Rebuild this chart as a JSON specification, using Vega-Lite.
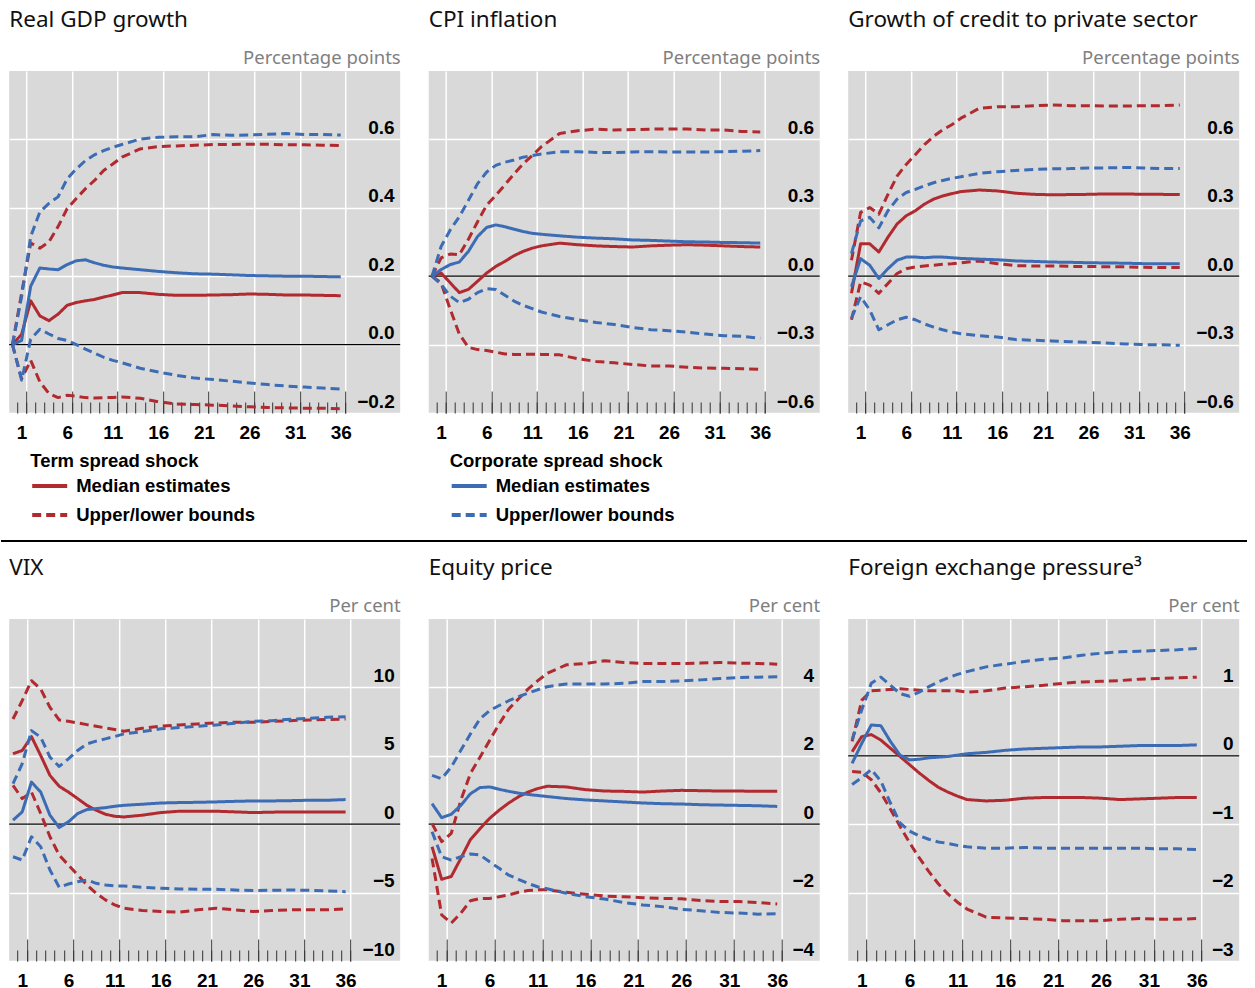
{
"$schema": "https://vega.github.io/schema/vega-lite/v6.json",
"background": "white",
"padding": {"left": 0, "top": 8, "right": 0, "bottom": 0},
"config": {
  "view": {"stroke": null, "fill": "#D9D9D9"},
  "font": "Liberation Sans",
  "title": {"anchor": "start", "frame": "group", "font": "Noto Sans", "fontSize": 22.5, "fontWeight": "normal", "color": "#111111", "baseline": "alphabetic", "offset": 17},
  "axis": {"domain": false, "labelFont": "Liberation Sans", "labelFontSize": 19, "labelFontWeight": "bold", "labelColor": "black", "tickColor": "#333333", "tickWidth": 1, "gridColor": "white", "gridWidth": 1.5, "gridOpacity": 1, "labelFlush": false, "labelOverlap": false, "titleFont": "Noto Sans", "titleFontSize": 18.5, "titleFontWeight": "normal", "titleColor": "#7F7F7F", "minExtent": 0, "labelBound": false},
  "legend": {"titleFont": "Liberation Sans", "titleFontSize": 18.5, "titleFontWeight": "bold", "titleColor": "black", "labelFont": "Liberation Sans", "labelFontSize": 18.5, "labelFontWeight": "bold", "labelColor": "black", "symbolType": "stroke", "symbolSize": 1225, "symbolStrokeWidth": 4, "labelOffset": 7, "rowPadding": -7, "titlePadding": -4, "padding": 0, "titleLimit": 0, "labelLimit": 0, "orient": "none", "direction": "vertical"}
},
"datasets": {"irf": [
{"p":"gdp","x":0,"tm":0,"tu":0,"tl":0,"cm":0,"cu":0,"cl":0},
{"p":"gdp","x":1,"tm":0.03,"tu":0.15,"tl":-0.1,"cm":0.012,"cu":0.14,"cl":-0.104},
{"p":"gdp","x":2,"tm":0.128,"tu":0.297,"tl":-0.046,"cm":0.171,"cu":0.316,"cl":0.016},
{"p":"gdp","x":3,"tm":0.084,"tu":0.282,"tl":-0.109,"cm":0.224,"cu":0.388,"cl":0.045},
{"p":"gdp","x":4,"tm":0.07,"tu":0.3,"tl":-0.143,"cm":0.221,"cu":0.413,"cl":0.031},
{"p":"gdp","x":5,"tm":0.089,"tu":0.345,"tl":-0.155,"cm":0.219,"cu":0.432,"cl":0.018},
{"p":"gdp","x":6,"tm":0.115,"tu":0.398,"tl":-0.148,"cm":0.234,"cu":0.485,"cl":0.012},
{"p":"gdp","x":7,"tm":0.123,"tu":0.427,"tl":-0.151,"cm":0.245,"cu":0.514,"cl":0},
{"p":"gdp","x":8,"tm":0.128,"tu":0.456,"tl":-0.155,"cm":0.248,"cu":0.538,"cl":-0.013},
{"p":"gdp","x":9,"tm":0.132,"tu":0.48,"tl":-0.156,"cm":0.239,"cu":0.555,"cl":-0.025},
{"p":"gdp","x":10,"tm":0.139,"tu":0.509,"tl":-0.155,"cm":0.232,"cu":0.567,"cl":-0.037},
{"p":"gdp","x":11,"tm":0.145,"tu":0.528,"tl":-0.155,"cm":0.227,"cu":0.577,"cl":-0.046},
{"p":"gdp","x":12,"tm":0.152,"tu":0.548,"tl":-0.153,"cm":0.224,"cu":0.585,"cl":-0.053},
{"p":"gdp","x":14,"tm":0.152,"tu":0.572,"tl":-0.157,"cm":0.219,"cu":0.601,"cl":-0.069},
{"p":"gdp","x":16,"tm":0.147,"tu":0.579,"tl":-0.167,"cm":0.214,"cu":0.606,"cl":-0.08},
{"p":"gdp","x":18,"tm":0.144,"tu":0.581,"tl":-0.174,"cm":0.21,"cu":0.608,"cl":-0.09},
{"p":"gdp","x":20,"tm":0.144,"tu":0.583,"tl":-0.175,"cm":0.207,"cu":0.608,"cl":-0.098},
{"p":"gdp","x":22,"tm":0.145,"tu":0.585,"tl":-0.177,"cm":0.206,"cu":0.614,"cl":-0.102},
{"p":"gdp","x":24,"tm":0.146,"tu":0.585,"tl":-0.179,"cm":0.204,"cu":0.612,"cl":-0.107},
{"p":"gdp","x":26,"tm":0.148,"tu":0.586,"tl":-0.182,"cm":0.202,"cu":0.613,"cl":-0.112},
{"p":"gdp","x":28,"tm":0.147,"tu":0.586,"tl":-0.184,"cm":0.201,"cu":0.615,"cl":-0.117},
{"p":"gdp","x":30,"tm":0.145,"tu":0.584,"tl":-0.185,"cm":0.2,"cu":0.617,"cl":-0.121},
{"p":"gdp","x":32,"tm":0.145,"tu":0.584,"tl":-0.186,"cm":0.2,"cu":0.614,"cl":-0.124},
{"p":"gdp","x":34,"tm":0.144,"tu":0.583,"tl":-0.186,"cm":0.199,"cu":0.614,"cl":-0.127},
{"p":"gdp","x":36,"tm":0.143,"tu":0.582,"tl":-0.188,"cm":0.198,"cu":0.613,"cl":-0.13},
{"p":"cpi","x":0,"tm":0,"tu":0,"tl":0,"cm":0,"cu":0,"cl":0},
{"p":"cpi","x":1,"tm":0.014,"tu":0.08,"tl":-0.029,"cm":0.029,"cu":0.13,"cl":-0.036},
{"p":"cpi","x":2,"tm":-0.029,"tu":0.097,"tl":-0.145,"cm":0.051,"cu":0.203,"cl":-0.087},
{"p":"cpi","x":3,"tm":-0.072,"tu":0.094,"tl":-0.254,"cm":0.062,"cu":0.261,"cl":-0.116},
{"p":"cpi","x":4,"tm":-0.058,"tu":0.162,"tl":-0.312,"cm":0.109,"cu":0.333,"cl":-0.101},
{"p":"cpi","x":5,"tm":-0.022,"tu":0.239,"tl":-0.322,"cm":0.174,"cu":0.406,"cl":-0.072},
{"p":"cpi","x":6,"tm":0.014,"tu":0.312,"tl":-0.326,"cm":0.214,"cu":0.457,"cl":-0.055},
{"p":"cpi","x":7,"tm":0.043,"tu":0.355,"tl":-0.333,"cm":0.225,"cu":0.486,"cl":-0.058},
{"p":"cpi","x":8,"tm":0.065,"tu":0.401,"tl":-0.341,"cm":0.217,"cu":0.5,"cl":-0.084},
{"p":"cpi","x":9,"tm":0.09,"tu":0.449,"tl":-0.343,"cm":0.206,"cu":0.51,"cl":-0.109},
{"p":"cpi","x":10,"tm":0.109,"tu":0.493,"tl":-0.343,"cm":0.196,"cu":0.522,"cl":-0.128},
{"p":"cpi","x":11,"tm":0.123,"tu":0.529,"tl":-0.342,"cm":0.188,"cu":0.529,"cl":-0.142},
{"p":"cpi","x":12,"tm":0.133,"tu":0.568,"tl":-0.343,"cm":0.184,"cu":0.536,"cl":-0.157},
{"p":"cpi","x":14,"tm":0.145,"tu":0.626,"tl":-0.345,"cm":0.177,"cu":0.546,"cl":-0.177},
{"p":"cpi","x":16,"tm":0.138,"tu":0.638,"tl":-0.362,"cm":0.171,"cu":0.546,"cl":-0.191},
{"p":"cpi","x":18,"tm":0.133,"tu":0.645,"tl":-0.374,"cm":0.167,"cu":0.543,"cl":-0.203},
{"p":"cpi","x":20,"tm":0.13,"tu":0.641,"tl":-0.38,"cm":0.164,"cu":0.542,"cl":-0.212},
{"p":"cpi","x":22,"tm":0.128,"tu":0.643,"tl":-0.387,"cm":0.159,"cu":0.545,"cl":-0.225},
{"p":"cpi","x":24,"tm":0.133,"tu":0.645,"tl":-0.394,"cm":0.157,"cu":0.546,"cl":-0.235},
{"p":"cpi","x":26,"tm":0.136,"tu":0.646,"tl":-0.394,"cm":0.154,"cu":0.545,"cl":-0.239},
{"p":"cpi","x":28,"tm":0.138,"tu":0.646,"tl":-0.399,"cm":0.151,"cu":0.545,"cl":-0.246},
{"p":"cpi","x":30,"tm":0.136,"tu":0.641,"tl":-0.403,"cm":0.15,"cu":0.545,"cl":-0.254},
{"p":"cpi","x":32,"tm":0.133,"tu":0.641,"tl":-0.404,"cm":0.148,"cu":0.546,"cl":-0.261},
{"p":"cpi","x":34,"tm":0.13,"tu":0.635,"tl":-0.406,"cm":0.147,"cu":0.548,"cl":-0.264},
{"p":"cpi","x":36,"tm":0.128,"tu":0.633,"tl":-0.409,"cm":0.145,"cu":0.551,"cl":-0.272},
{"p":"credit","x":0,"tm":-0.075,"tu":0.07,"tl":-0.191,"cm":-0.046,"cu":0.099,"cl":-0.184},
{"p":"credit","x":1,"tm":0.142,"tu":0.28,"tl":-0.025,"cm":0.077,"cu":0.243,"cl":-0.09},
{"p":"credit","x":2,"tm":0.142,"tu":0.301,"tl":-0.039,"cm":0.048,"cu":0.258,"cl":-0.148},
{"p":"credit","x":3,"tm":0.106,"tu":0.272,"tl":-0.075,"cm":-0.01,"cu":0.212,"cl":-0.235},
{"p":"credit","x":4,"tm":0.171,"tu":0.359,"tl":-0.032,"cm":0.033,"cu":0.287,"cl":-0.213},
{"p":"credit","x":5,"tm":0.229,"tu":0.439,"tl":0.012,"cm":0.07,"cu":0.338,"cl":-0.191},
{"p":"credit","x":6,"tm":0.265,"tu":0.49,"tl":0.033,"cm":0.084,"cu":0.367,"cl":-0.18},
{"p":"credit","x":7,"tm":0.287,"tu":0.533,"tl":0.041,"cm":0.084,"cu":0.381,"cl":-0.191},
{"p":"credit","x":8,"tm":0.316,"tu":0.577,"tl":0.045,"cm":0.081,"cu":0.396,"cl":-0.209},
{"p":"credit","x":9,"tm":0.338,"tu":0.613,"tl":0.048,"cm":0.084,"cu":0.41,"cl":-0.223},
{"p":"credit","x":10,"tm":0.352,"tu":0.642,"tl":0.052,"cm":0.084,"cu":0.42,"cl":-0.235},
{"p":"credit","x":11,"tm":0.362,"tu":0.664,"tl":0.055,"cm":0.081,"cu":0.429,"cl":-0.245},
{"p":"credit","x":12,"tm":0.371,"tu":0.693,"tl":0.059,"cm":0.078,"cu":0.436,"cl":-0.252},
{"p":"credit","x":14,"tm":0.378,"tu":0.736,"tl":0.067,"cm":0.075,"cu":0.451,"cl":-0.261},
{"p":"credit","x":16,"tm":0.374,"tu":0.743,"tl":0.055,"cm":0.072,"cu":0.458,"cl":-0.267},
{"p":"credit","x":18,"tm":0.364,"tu":0.743,"tl":0.046,"cm":0.067,"cu":0.464,"cl":-0.278},
{"p":"credit","x":20,"tm":0.359,"tu":0.748,"tl":0.045,"cm":0.065,"cu":0.468,"cl":-0.281},
{"p":"credit","x":22,"tm":0.357,"tu":0.751,"tl":0.045,"cm":0.062,"cu":0.471,"cl":-0.284},
{"p":"credit","x":24,"tm":0.358,"tu":0.748,"tl":0.043,"cm":0.061,"cu":0.472,"cl":-0.287},
{"p":"credit","x":26,"tm":0.359,"tu":0.748,"tl":0.043,"cm":0.059,"cu":0.475,"cl":-0.29},
{"p":"credit","x":28,"tm":0.361,"tu":0.746,"tl":0.041,"cm":0.058,"cu":0.475,"cl":-0.293},
{"p":"credit","x":30,"tm":0.361,"tu":0.746,"tl":0.041,"cm":0.057,"cu":0.477,"cl":-0.297},
{"p":"credit","x":32,"tm":0.359,"tu":0.748,"tl":0.039,"cm":0.055,"cu":0.475,"cl":-0.3},
{"p":"credit","x":34,"tm":0.359,"tu":0.748,"tl":0.038,"cm":0.055,"cu":0.472,"cl":-0.301},
{"p":"credit","x":36,"tm":0.358,"tu":0.751,"tl":0.038,"cm":0.055,"cu":0.472,"cl":-0.303},
{"p":"vix","x":0,"tm":5.15,"tu":7.69,"tl":2.84,"cm":0.29,"cu":2.96,"cl":-2.38},
{"p":"vix","x":1,"tm":5.39,"tu":9.03,"tl":1.87,"cm":0.9,"cu":4.42,"cl":-2.62},
{"p":"vix","x":2,"tm":6.4,"tu":10.49,"tl":2.35,"cm":3.08,"cu":6.84,"cl":-0.92},
{"p":"vix","x":3,"tm":5.02,"tu":9.88,"tl":0.78,"cm":2.35,"cu":6.36,"cl":-1.65},
{"p":"vix","x":4,"tm":3.57,"tu":8.54,"tl":-0.92,"cm":0.66,"cu":4.9,"cl":-3.35},
{"p":"vix","x":5,"tm":2.77,"tu":7.62,"tl":-2.26,"cm":-0.24,"cu":4.22,"cl":-4.61},
{"p":"vix","x":6,"tm":2.35,"tu":7.52,"tl":-2.99,"cm":0.17,"cu":4.78,"cl":-4.37},
{"p":"vix","x":7,"tm":1.87,"tu":7.4,"tl":-3.71,"cm":0.78,"cu":5.39,"cl":-4.2},
{"p":"vix","x":8,"tm":1.38,"tu":7.28,"tl":-4.44,"cm":1.07,"cu":5.87,"cl":-4.08},
{"p":"vix","x":9,"tm":1.02,"tu":7.16,"tl":-5.05,"cm":1.14,"cu":6.07,"cl":-4.32},
{"p":"vix","x":10,"tm":0.73,"tu":7.04,"tl":-5.53,"cm":1.21,"cu":6.24,"cl":-4.44},
{"p":"vix","x":11,"tm":0.58,"tu":6.92,"tl":-5.9,"cm":1.31,"cu":6.41,"cl":-4.51},
{"p":"vix","x":12,"tm":0.53,"tu":6.8,"tl":-6.14,"cm":1.38,"cu":6.6,"cl":-4.51},
{"p":"vix","x":14,"tm":0.66,"tu":7.01,"tl":-6.31,"cm":1.46,"cu":6.77,"cl":-4.61},
{"p":"vix","x":16,"tm":0.85,"tu":7.16,"tl":-6.38,"cm":1.55,"cu":6.97,"cl":-4.68},
{"p":"vix","x":18,"tm":0.95,"tu":7.26,"tl":-6.43,"cm":1.58,"cu":7.06,"cl":-4.73},
{"p":"vix","x":20,"tm":0.95,"tu":7.33,"tl":-6.26,"cm":1.6,"cu":7.16,"cl":-4.76},
{"p":"vix","x":22,"tm":0.95,"tu":7.4,"tl":-6.14,"cm":1.63,"cu":7.26,"cl":-4.76},
{"p":"vix","x":24,"tm":0.9,"tu":7.45,"tl":-6.26,"cm":1.67,"cu":7.38,"cl":-4.81},
{"p":"vix","x":26,"tm":0.85,"tu":7.45,"tl":-6.38,"cm":1.7,"cu":7.52,"cl":-4.85},
{"p":"vix","x":28,"tm":0.88,"tu":7.52,"tl":-6.31,"cm":1.7,"cu":7.57,"cl":-4.83},
{"p":"vix","x":30,"tm":0.9,"tu":7.57,"tl":-6.26,"cm":1.72,"cu":7.67,"cl":-4.81},
{"p":"vix","x":32,"tm":0.9,"tu":7.62,"tl":-6.26,"cm":1.75,"cu":7.74,"cl":-4.83},
{"p":"vix","x":34,"tm":0.9,"tu":7.65,"tl":-6.26,"cm":1.75,"cu":7.82,"cl":-4.88},
{"p":"vix","x":36,"tm":0.9,"tu":7.69,"tl":-6.19,"cm":1.8,"cu":7.86,"cl":-4.93},
{"p":"eq","x":0,"tm":-0.66,"tu":0.02,"tl":-1.0,"cm":0.6,"cu":1.43,"cl":-0.22},
{"p":"eq","x":1,"tm":-1.61,"tu":-0.51,"tl":-2.65,"cm":0.19,"cu":1.33,"cl":-0.95},
{"p":"eq","x":2,"tm":-1.53,"tu":-0.27,"tl":-2.89,"cm":0.29,"cu":1.67,"cl":-1.05},
{"p":"eq","x":3,"tm":-1.0,"tu":0.7,"tl":-2.6,"cm":0.55,"cu":2.16,"cl":-0.95},
{"p":"eq","x":4,"tm":-0.45,"tu":1.48,"tl":-2.24,"cm":0.89,"cu":2.64,"cl":-0.87},
{"p":"eq","x":5,"tm":-0.13,"tu":1.96,"tl":-2.17,"cm":1.07,"cu":3.08,"cl":-0.9},
{"p":"eq","x":6,"tm":0.17,"tu":2.45,"tl":-2.17,"cm":1.09,"cu":3.32,"cl":-1.1},
{"p":"eq","x":7,"tm":0.41,"tu":2.93,"tl":-2.12,"cm":1.02,"cu":3.47,"cl":-1.29},
{"p":"eq","x":8,"tm":0.62,"tu":3.37,"tl":-2.07,"cm":0.96,"cu":3.61,"cl":-1.49},
{"p":"eq","x":9,"tm":0.8,"tu":3.66,"tl":-1.99,"cm":0.91,"cu":3.73,"cl":-1.61},
{"p":"eq","x":10,"tm":0.94,"tu":3.95,"tl":-1.94,"cm":0.87,"cu":3.83,"cl":-1.73},
{"p":"eq","x":11,"tm":1.04,"tu":4.19,"tl":-1.92,"cm":0.84,"cu":3.93,"cl":-1.83},
{"p":"eq","x":12,"tm":1.11,"tu":4.41,"tl":-1.92,"cm":0.81,"cu":4.02,"cl":-1.89},
{"p":"eq","x":14,"tm":1.09,"tu":4.66,"tl":-1.99,"cm":0.75,"cu":4.1,"cl":-2.02},
{"p":"eq","x":16,"tm":1.01,"tu":4.7,"tl":-2.05,"cm":0.71,"cu":4.1,"cl":-2.12},
{"p":"eq","x":18,"tm":0.97,"tu":4.78,"tl":-2.1,"cm":0.68,"cu":4.1,"cl":-2.19},
{"p":"eq","x":20,"tm":0.96,"tu":4.73,"tl":-2.12,"cm":0.65,"cu":4.12,"cl":-2.29},
{"p":"eq","x":22,"tm":0.94,"tu":4.7,"tl":-2.15,"cm":0.62,"cu":4.17,"cl":-2.36},
{"p":"eq","x":24,"tm":0.97,"tu":4.7,"tl":-2.17,"cm":0.6,"cu":4.17,"cl":-2.41},
{"p":"eq","x":26,"tm":0.99,"tu":4.7,"tl":-2.18,"cm":0.59,"cu":4.19,"cl":-2.49},
{"p":"eq","x":28,"tm":0.98,"tu":4.71,"tl":-2.23,"cm":0.57,"cu":4.22,"cl":-2.53},
{"p":"eq","x":30,"tm":0.97,"tu":4.73,"tl":-2.26,"cm":0.56,"cu":4.26,"cl":-2.58},
{"p":"eq","x":32,"tm":0.97,"tu":4.71,"tl":-2.26,"cm":0.55,"cu":4.29,"cl":-2.6},
{"p":"eq","x":34,"tm":0.96,"tu":4.7,"tl":-2.29,"cm":0.54,"cu":4.3,"cl":-2.63},
{"p":"eq","x":36,"tm":0.96,"tu":4.68,"tl":-2.33,"cm":0.52,"cu":4.31,"cl":-2.62},
{"p":"fx","x":0,"tm":0.06,"tu":0.21,"tl":-0.23,"cm":-0.11,"cu":0.23,"cl":-0.42},
{"p":"fx","x":1,"tm":0.28,"tu":0.81,"tl":-0.24,"cm":0.18,"cu":0.67,"cl":-0.32},
{"p":"fx","x":2,"tm":0.31,"tu":0.95,"tl":-0.35,"cm":0.45,"cu":1.06,"cl":-0.2},
{"p":"fx","x":3,"tm":0.23,"tu":0.96,"tl":-0.54,"cm":0.44,"cu":1.15,"cl":-0.37},
{"p":"fx","x":4,"tm":0.11,"tu":0.97,"tl":-0.78,"cm":0.21,"cu":1.03,"cl":-0.69},
{"p":"fx","x":5,"tm":-0.01,"tu":0.98,"tl":-1.03,"cm":0.01,"cu":0.91,"cl":-0.98},
{"p":"fx","x":6,"tm":-0.13,"tu":0.97,"tl":-1.27,"cm":-0.06,"cu":0.87,"cl":-1.1},
{"p":"fx","x":7,"tm":-0.25,"tu":0.96,"tl":-1.49,"cm":-0.05,"cu":0.93,"cl":-1.17},
{"p":"fx","x":8,"tm":-0.36,"tu":0.95,"tl":-1.69,"cm":-0.03,"cu":1.01,"cl":-1.22},
{"p":"fx","x":9,"tm":-0.46,"tu":0.95,"tl":-1.87,"cm":-0.02,"cu":1.08,"cl":-1.26},
{"p":"fx","x":10,"tm":-0.53,"tu":0.95,"tl":-2.02,"cm":-0.01,"cu":1.14,"cl":-1.28},
{"p":"fx","x":11,"tm":-0.59,"tu":0.95,"tl":-2.14,"cm":0.01,"cu":1.19,"cl":-1.31},
{"p":"fx","x":12,"tm":-0.64,"tu":0.93,"tl":-2.24,"cm":0.03,"cu":1.23,"cl":-1.33},
{"p":"fx","x":14,"tm":-0.66,"tu":0.95,"tl":-2.36,"cm":0.05,"cu":1.3,"cl":-1.35},
{"p":"fx","x":16,"tm":-0.65,"tu":0.99,"tl":-2.37,"cm":0.08,"cu":1.34,"cl":-1.35},
{"p":"fx","x":18,"tm":-0.62,"tu":1.01,"tl":-2.38,"cm":0.1,"cu":1.38,"cl":-1.34},
{"p":"fx","x":20,"tm":-0.61,"tu":1.03,"tl":-2.39,"cm":0.11,"cu":1.41,"cl":-1.35},
{"p":"fx","x":22,"tm":-0.61,"tu":1.06,"tl":-2.41,"cm":0.12,"cu":1.43,"cl":-1.35},
{"p":"fx","x":24,"tm":-0.61,"tu":1.08,"tl":-2.41,"cm":0.13,"cu":1.47,"cl":-1.35},
{"p":"fx","x":26,"tm":-0.62,"tu":1.09,"tl":-2.41,"cm":0.13,"cu":1.5,"cl":-1.35},
{"p":"fx","x":28,"tm":-0.64,"tu":1.1,"tl":-2.39,"cm":0.14,"cu":1.52,"cl":-1.35},
{"p":"fx","x":30,"tm":-0.63,"tu":1.12,"tl":-2.38,"cm":0.15,"cu":1.53,"cl":-1.35},
{"p":"fx","x":32,"tm":-0.62,"tu":1.13,"tl":-2.39,"cm":0.15,"cu":1.54,"cl":-1.36},
{"p":"fx","x":34,"tm":-0.61,"tu":1.14,"tl":-2.39,"cm":0.15,"cu":1.55,"cl":-1.36},
{"p":"fx","x":36,"tm":-0.61,"tu":1.15,"tl":-2.38,"cm":0.16,"cu":1.57,"cl":-1.37}
]},
"vconcat": [
{"hconcat": [
 {"width": 391, "height": 342, "title": {"text": "Real GDP growth"},
  "layer": [
   {"data": {"values": [{}]}, "mark": {"type": "rule", "color": "black", "strokeWidth": 1.2},
    "encoding": {
     "x": {"datum": -0.36, "type": "quantitative", "scale": {"domain": [-0.36, 42.52], "nice": false, "zero": false},
       "axis": {"orient": "bottom", "values": [1.5,6.5,11.5,16.5,21.5,26.5,31.5,36.5], "grid": true, "ticks": true, "tickSize": -22, "labels": true, "labelExpr": "format(datum.value - 0.5, 'd')", "labelOffset": -4.57, "labelPadding": 32, "title": null}},
     "x2": {"datum": 42.52},
     "y": {"datum": 0, "type": "quantitative", "axis": null}}},
   {"data": {"name": "irf"},
    "transform": [{"filter": "datum.p == 'gdp'"}, {"fold": ["tm","tu","tl","cm","cu","cl"], "as": ["key","value"]}],
    "mark": {"type": "line", "strokeWidth": 3, "clip": true, "strokeJoin": "round"},
    "encoding": {
     "x": {"field": "x", "type": "quantitative", "scale": {"domain": [-0.36, 42.52], "nice": false, "zero": false},
       "axis": {"orient": "bottom", "values": [0.5,1.5,2.5,3.5,4.5,5.5,6.5,7.5,8.5,9.5,10.5,11.5,12.5,13.5,14.5,15.5,16.5,17.5,18.5,19.5,20.5,21.5,22.5,23.5,24.5,25.5,26.5,27.5,28.5,29.5,30.5,31.5,32.5,33.5,34.5,35.5,36.5], "grid": false, "ticks": true, "tickSize": -11, "labels": false, "title": null}},
     "y": {"field": "value", "type": "quantitative", "scale": {"domain": [-0.2, 0.8], "nice": false, "zero": false},
       "axis": {"orient": "right", "values": [-0.2, 0, 0.2, 0.4, 0.6], "format": ".1f", "grid": true, "ticks": false, "labelAlign": "right", "labelPadding": -6, "labelBaseline": "alphabetic", "labelOffset": -6, "title": "Percentage points", "titleAngle": 0, "titleAlign": "right", "titleBaseline": "alphabetic", "titleX": 0, "titleY": -8}},
     "color": {"field": "key", "type": "nominal", "scale": {"domain": ["tm","tu","tl","cm","cu","cl"], "range": ["#B02A30","#B02A30","#B02A30","#3C6CB4","#3C6CB4","#3C6CB4"]},
       "legend": {"title": "Term spread shock", "values": ["tm","tu"], "labelExpr": "datum.value == 'tm' || datum.value == 'cm' ? 'Median estimates' : 'Upper/lower bounds'", "legendX": 21, "legendY": 381}},
     "strokeDash": {"field": "key", "type": "nominal", "scale": {"domain": ["tm","tu","tl","cm","cu","cl"], "range": [[1,0],[9,5],[9,5],[1,0],[9,5],[9,5]]},
       "legend": {"title": "Term spread shock", "values": ["tm","tu"], "labelExpr": "datum.value == 'tm' || datum.value == 'cm' ? 'Median estimates' : 'Upper/lower bounds'", "legendX": 21, "legendY": 381}}}}
  ],
  "resolve": {"axis": {"x": "independent", "y": "independent"}}},
 {"width": 391, "height": 342, "title": {"text": "CPI inflation"},
  "layer": [
   {"data": {"values": [{}]}, "mark": {"type": "rule", "color": "black", "strokeWidth": 1.2},
    "encoding": {
     "x": {"datum": -0.36, "type": "quantitative", "scale": {"domain": [-0.36, 42.52], "nice": false, "zero": false},
       "axis": {"orient": "bottom", "values": [1.5,6.5,11.5,16.5,21.5,26.5,31.5,36.5], "grid": true, "ticks": true, "tickSize": -22, "labels": true, "labelExpr": "format(datum.value - 0.5, 'd')", "labelOffset": -4.57, "labelPadding": 32, "title": null}},
     "x2": {"datum": 42.52},
     "y": {"datum": 0, "type": "quantitative", "axis": null}}},
   {"data": {"name": "irf"},
    "transform": [{"filter": "datum.p == 'cpi'"}, {"fold": ["tm","tu","tl","cm","cu","cl"], "as": ["key","value"]}],
    "mark": {"type": "line", "strokeWidth": 3, "clip": true, "strokeJoin": "round"},
    "encoding": {
     "x": {"field": "x", "type": "quantitative", "scale": {"domain": [-0.36, 42.52], "nice": false, "zero": false},
       "axis": {"orient": "bottom", "values": [0.5,1.5,2.5,3.5,4.5,5.5,6.5,7.5,8.5,9.5,10.5,11.5,12.5,13.5,14.5,15.5,16.5,17.5,18.5,19.5,20.5,21.5,22.5,23.5,24.5,25.5,26.5,27.5,28.5,29.5,30.5,31.5,32.5,33.5,34.5,35.5,36.5], "grid": false, "ticks": true, "tickSize": -11, "labels": false, "title": null}},
     "y": {"field": "value", "type": "quantitative", "scale": {"domain": [-0.6, 0.9], "nice": false, "zero": false},
       "axis": {"orient": "right", "values": [-0.6, -0.3, 0, 0.3, 0.6], "format": ".1f", "grid": true, "ticks": false, "labelAlign": "right", "labelPadding": -6, "labelBaseline": "alphabetic", "labelOffset": -6, "title": "Percentage points", "titleAngle": 0, "titleAlign": "right", "titleBaseline": "alphabetic", "titleX": 0, "titleY": -8}},
     "color": {"field": "key", "type": "nominal", "scale": {"domain": ["tm","tu","tl","cm","cu","cl"], "range": ["#B02A30","#B02A30","#B02A30","#3C6CB4","#3C6CB4","#3C6CB4"]},
       "legend": {"title": "Corporate spread shock", "values": ["cm","cu"], "labelExpr": "datum.value == 'tm' || datum.value == 'cm' ? 'Median estimates' : 'Upper/lower bounds'", "legendX": 21, "legendY": 381}},
     "strokeDash": {"field": "key", "type": "nominal", "scale": {"domain": ["tm","tu","tl","cm","cu","cl"], "range": [[1,0],[9,5],[9,5],[1,0],[9,5],[9,5]]},
       "legend": {"title": "Corporate spread shock", "values": ["cm","cu"], "labelExpr": "datum.value == 'tm' || datum.value == 'cm' ? 'Median estimates' : 'Upper/lower bounds'", "legendX": 21, "legendY": 381}}}}
  ],
  "resolve": {"axis": {"x": "independent", "y": "independent"}}},
 {"width": 391, "height": 342, "title": {"text": "Growth of credit to private sector"},
  "layer": [
   {"data": {"values": [{}]}, "mark": {"type": "rule", "color": "black", "strokeWidth": 1.2},
    "encoding": {
     "x": {"datum": -0.36, "type": "quantitative", "scale": {"domain": [-0.36, 42.52], "nice": false, "zero": false},
       "axis": {"orient": "bottom", "values": [1.5,6.5,11.5,16.5,21.5,26.5,31.5,36.5], "grid": true, "ticks": true, "tickSize": -22, "labels": true, "labelExpr": "format(datum.value - 0.5, 'd')", "labelOffset": -4.57, "labelPadding": 32, "title": null}},
     "x2": {"datum": 42.52},
     "y": {"datum": 0, "type": "quantitative", "axis": null}}},
   {"data": {"name": "irf"},
    "transform": [{"filter": "datum.p == 'credit'"}, {"fold": ["tm","tu","tl","cm","cu","cl"], "as": ["key","value"]}],
    "mark": {"type": "line", "strokeWidth": 3, "clip": true, "strokeJoin": "round"},
    "encoding": {
     "x": {"field": "x", "type": "quantitative", "scale": {"domain": [-0.36, 42.52], "nice": false, "zero": false},
       "axis": {"orient": "bottom", "values": [0.5,1.5,2.5,3.5,4.5,5.5,6.5,7.5,8.5,9.5,10.5,11.5,12.5,13.5,14.5,15.5,16.5,17.5,18.5,19.5,20.5,21.5,22.5,23.5,24.5,25.5,26.5,27.5,28.5,29.5,30.5,31.5,32.5,33.5,34.5,35.5,36.5], "grid": false, "ticks": true, "tickSize": -11, "labels": false, "title": null}},
     "y": {"field": "value", "type": "quantitative", "scale": {"domain": [-0.6, 0.9], "nice": false, "zero": false},
       "axis": {"orient": "right", "values": [-0.6, -0.3, 0, 0.3, 0.6], "format": ".1f", "grid": true, "ticks": false, "labelAlign": "right", "labelPadding": -6, "labelBaseline": "alphabetic", "labelOffset": -6, "title": "Percentage points", "titleAngle": 0, "titleAlign": "right", "titleBaseline": "alphabetic", "titleX": 0, "titleY": -8}},
     "color": {"field": "key", "type": "nominal", "scale": {"domain": ["tm","tu","tl","cm","cu","cl"], "range": ["#B02A30","#B02A30","#B02A30","#3C6CB4","#3C6CB4","#3C6CB4"]}, "legend": null},
     "strokeDash": {"field": "key", "type": "nominal", "scale": {"domain": ["tm","tu","tl","cm","cu","cl"], "range": [[1,0],[9,5],[9,5],[1,0],[9,5],[9,5]]}, "legend": null}}}
  ],
  "resolve": {"axis": {"x": "independent", "y": "independent"}}}
 ],
 "spacing": 26.5,
 "resolve": {"scale": {"color": "independent", "strokeDash": "independent"}}},
{"width": 1246, "height": 2, "view": {"fill": "white", "stroke": null},
 "data": {"values": [{}]},
 "mark": {"type": "rule", "color": "black", "strokeWidth": 2},
 "encoding": {"y": {"datum": 0, "type": "quantitative", "scale": {"domain": [0, 1]}, "axis": null}}},
{"hconcat": [
 {"width": 391, "height": 342, "title": {"text": "VIX"},
  "layer": [
   {"data": {"values": [{}]}, "mark": {"type": "rule", "color": "black", "strokeWidth": 1.2},
    "encoding": {
     "x": {"datum": -0.41, "type": "quantitative", "scale": {"domain": [-0.41, 41.91], "nice": false, "zero": false},
       "axis": {"orient": "bottom", "values": [1.5,6.5,11.5,16.5,21.5,26.5,31.5,36.5], "grid": true, "ticks": true, "tickSize": -22, "labels": true, "labelExpr": "format(datum.value - 0.5, 'd')", "labelOffset": -4.62, "labelPadding": 32, "title": null}},
     "x2": {"datum": 41.91},
     "y": {"datum": 0, "type": "quantitative", "axis": null}}},
   {"data": {"name": "irf"},
    "transform": [{"filter": "datum.p == 'vix'"}, {"fold": ["tm","tu","tl","cm","cu","cl"], "as": ["key","value"]}],
    "mark": {"type": "line", "strokeWidth": 3, "clip": true, "strokeJoin": "round"},
    "encoding": {
     "x": {"field": "x", "type": "quantitative", "scale": {"domain": [-0.41, 41.91], "nice": false, "zero": false},
       "axis": {"orient": "bottom", "values": [0.5,1.5,2.5,3.5,4.5,5.5,6.5,7.5,8.5,9.5,10.5,11.5,12.5,13.5,14.5,15.5,16.5,17.5,18.5,19.5,20.5,21.5,22.5,23.5,24.5,25.5,26.5,27.5,28.5,29.5,30.5,31.5,32.5,33.5,34.5,35.5,36.5], "grid": false, "ticks": true, "tickSize": -11, "labels": false, "title": null}},
     "y": {"field": "value", "type": "quantitative", "scale": {"domain": [-10, 15], "nice": false, "zero": false},
       "axis": {"orient": "right", "values": [-10, -5, 0, 5, 10], "format": "d", "grid": true, "ticks": false, "labelAlign": "right", "labelPadding": -6, "labelBaseline": "alphabetic", "labelOffset": -6, "title": "Per cent", "titleAngle": 0, "titleAlign": "right", "titleBaseline": "alphabetic", "titleX": 0, "titleY": -8}},
     "color": {"field": "key", "type": "nominal", "scale": {"domain": ["tm","tu","tl","cm","cu","cl"], "range": ["#B02A30","#B02A30","#B02A30","#3C6CB4","#3C6CB4","#3C6CB4"]}, "legend": null},
     "strokeDash": {"field": "key", "type": "nominal", "scale": {"domain": ["tm","tu","tl","cm","cu","cl"], "range": [[1,0],[9,5],[9,5],[1,0],[9,5],[9,5]]}, "legend": null}}}
  ],
  "resolve": {"axis": {"x": "independent", "y": "independent"}}},
 {"width": 391, "height": 342, "title": {"text": "Equity price"},
  "layer": [
   {"data": {"values": [{}]}, "mark": {"type": "rule", "color": "black", "strokeWidth": 1.2},
    "encoding": {
     "x": {"datum": -0.35, "type": "quantitative", "scale": {"domain": [-0.35, 40.43], "nice": false, "zero": false},
       "axis": {"orient": "bottom", "values": [1.5,6.5,11.5,16.5,21.5,26.5,31.5,36.5], "grid": true, "ticks": true, "tickSize": -22, "labels": true, "labelExpr": "format(datum.value - 0.5, 'd')", "labelOffset": -4.79, "labelPadding": 32, "title": null}},
     "x2": {"datum": 40.43},
     "y": {"datum": 0, "type": "quantitative", "axis": null}}},
   {"data": {"name": "irf"},
    "transform": [{"filter": "datum.p == 'eq'"}, {"fold": ["tm","tu","tl","cm","cu","cl"], "as": ["key","value"]}],
    "mark": {"type": "line", "strokeWidth": 3, "clip": true, "strokeJoin": "round"},
    "encoding": {
     "x": {"field": "x", "type": "quantitative", "scale": {"domain": [-0.35, 40.43], "nice": false, "zero": false},
       "axis": {"orient": "bottom", "values": [0.5,1.5,2.5,3.5,4.5,5.5,6.5,7.5,8.5,9.5,10.5,11.5,12.5,13.5,14.5,15.5,16.5,17.5,18.5,19.5,20.5,21.5,22.5,23.5,24.5,25.5,26.5,27.5,28.5,29.5,30.5,31.5,32.5,33.5,34.5,35.5,36.5], "grid": false, "ticks": true, "tickSize": -11, "labels": false, "title": null}},
     "y": {"field": "value", "type": "quantitative", "scale": {"domain": [-4, 6], "nice": false, "zero": false},
       "axis": {"orient": "right", "values": [-4, -2, 0, 2, 4], "format": "d", "grid": true, "ticks": false, "labelAlign": "right", "labelPadding": -6, "labelBaseline": "alphabetic", "labelOffset": -6, "title": "Per cent", "titleAngle": 0, "titleAlign": "right", "titleBaseline": "alphabetic", "titleX": 0, "titleY": -8}},
     "color": {"field": "key", "type": "nominal", "scale": {"domain": ["tm","tu","tl","cm","cu","cl"], "range": ["#B02A30","#B02A30","#B02A30","#3C6CB4","#3C6CB4","#3C6CB4"]}, "legend": null},
     "strokeDash": {"field": "key", "type": "nominal", "scale": {"domain": ["tm","tu","tl","cm","cu","cl"], "range": [[1,0],[9,5],[9,5],[1,0],[9,5],[9,5]]}, "legend": null}}}
  ],
  "resolve": {"axis": {"x": "independent", "y": "independent"}}},
 {"width": 391, "height": 342, "title": {"text": "Foreign exchange pressure³"},
  "layer": [
   {"data": {"values": [{}]}, "mark": {"type": "rule", "color": "black", "strokeWidth": 1.2},
    "encoding": {
     "x": {"datum": -0.41, "type": "quantitative", "scale": {"domain": [-0.41, 40.43], "nice": false, "zero": false},
       "axis": {"orient": "bottom", "values": [1.5,6.5,11.5,16.5,21.5,26.5,31.5,36.5], "grid": true, "ticks": true, "tickSize": -22, "labels": true, "labelExpr": "format(datum.value - 0.5, 'd')", "labelOffset": -4.79, "labelPadding": 32, "title": null}},
     "x2": {"datum": 40.43},
     "y": {"datum": 0, "type": "quantitative", "axis": null}}},
   {"data": {"name": "irf"},
    "transform": [{"filter": "datum.p == 'fx'"}, {"fold": ["tm","tu","tl","cm","cu","cl"], "as": ["key","value"]}],
    "mark": {"type": "line", "strokeWidth": 3, "clip": true, "strokeJoin": "round"},
    "encoding": {
     "x": {"field": "x", "type": "quantitative", "scale": {"domain": [-0.41, 40.43], "nice": false, "zero": false},
       "axis": {"orient": "bottom", "values": [0.5,1.5,2.5,3.5,4.5,5.5,6.5,7.5,8.5,9.5,10.5,11.5,12.5,13.5,14.5,15.5,16.5,17.5,18.5,19.5,20.5,21.5,22.5,23.5,24.5,25.5,26.5,27.5,28.5,29.5,30.5,31.5,32.5,33.5,34.5,35.5,36.5], "grid": false, "ticks": true, "tickSize": -11, "labels": false, "title": null}},
     "y": {"field": "value", "type": "quantitative", "scale": {"domain": [-3, 2], "nice": false, "zero": false},
       "axis": {"orient": "right", "values": [-3, -2, -1, 0, 1], "format": "d", "grid": true, "ticks": false, "labelAlign": "right", "labelPadding": -6, "labelBaseline": "alphabetic", "labelOffset": -6, "title": "Per cent", "titleAngle": 0, "titleAlign": "right", "titleBaseline": "alphabetic", "titleX": 0, "titleY": -8}},
     "color": {"field": "key", "type": "nominal", "scale": {"domain": ["tm","tu","tl","cm","cu","cl"], "range": ["#B02A30","#B02A30","#B02A30","#3C6CB4","#3C6CB4","#3C6CB4"]}, "legend": null},
     "strokeDash": {"field": "key", "type": "nominal", "scale": {"domain": ["tm","tu","tl","cm","cu","cl"], "range": [[1,0],[9,5],[9,5],[1,0],[9,5],[9,5]]}, "legend": null}}}
  ],
  "resolve": {"axis": {"x": "independent", "y": "independent"}}}
 ],
 "spacing": 26.5,
 "resolve": {"scale": {"color": "independent", "strokeDash": "independent"}}}
],
"spacing": 14,
"center": true,
"resolve": {"scale": {"color": "independent", "strokeDash": "independent"}}
}
